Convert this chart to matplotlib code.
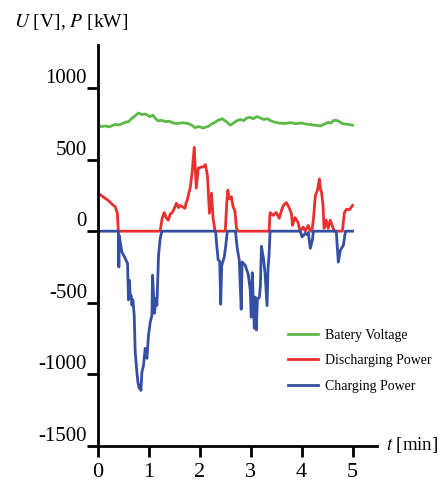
import matplotlib
matplotlib.use("Agg")
import matplotlib.pyplot as plt

plt.rcParams['font.family'] = ['Liberation Serif', 'DejaVu Serif']
plt.rcParams['mathtext.fontset'] = 'stix'

# ---- data ----
t_volt = [0.00, 0.07, 0.14, 0.22, 0.33, 0.42, 0.53, 0.60, 0.67, 0.73, 0.79, 0.86, 0.93,
          1.02, 1.08, 1.12, 1.18, 1.25, 1.32, 1.40, 1.48, 1.57, 1.66, 1.77, 1.84, 1.91,
          1.96, 2.01, 2.06, 2.11, 2.18, 2.24, 2.30, 2.36, 2.44, 2.52, 2.60, 2.66, 2.72,
          2.80, 2.86, 2.92, 2.99, 3.05, 3.12, 3.19, 3.26, 3.33, 3.40, 3.48, 3.56, 3.68,
          3.78, 3.88, 3.98, 4.08, 4.17, 4.26, 4.37, 4.45, 4.52, 4.57, 4.64, 4.72, 4.79,
          4.86, 4.93, 5.00]
voltage = [740, 730, 735, 728, 745, 742, 760, 765, 790, 805, 825, 815, 818,
           800, 810, 790, 770, 775, 765, 768, 755, 752, 757, 752, 740, 722,
           730, 728, 720, 725, 735, 750, 760, 775, 785, 765, 740, 755, 770,
           780, 772, 790, 795, 785, 800, 790, 780, 785, 770, 760, 755, 752,
           758, 750, 756, 748, 745, 740, 735, 748, 760, 755, 775, 770, 752,
           748, 745, 740]

t_dis = [0.00, 0.10, 0.20, 0.30, 0.34, 0.38, 0.40, 1.22, 1.26, 1.30, 1.34, 1.38, 1.42,
         1.46, 1.50, 1.54, 1.58, 1.61, 1.66, 1.71, 1.73, 1.75, 1.78, 1.81, 1.85, 1.89,
         1.93, 1.97, 2.01, 2.07, 2.11, 2.15, 2.19, 2.23, 2.26, 2.30, 2.50, 2.53, 2.55,
         2.58, 2.62, 2.65, 2.69, 2.72, 2.75, 3.36, 3.38, 3.44, 3.48, 3.50, 3.56, 3.60,
         3.64, 3.70, 3.76, 3.80, 3.82, 3.87, 3.93, 3.97, 4.03, 4.07, 4.13, 4.17, 4.20,
         4.23, 4.27, 4.31, 4.35, 4.37, 4.39, 4.42, 4.44, 4.48, 4.52, 4.56, 4.60, 4.64,
         4.80, 4.84, 4.88, 4.94, 5.00]
discharging = [265, 240, 215, 181, 170, 125, 0, 0, 90, 130, 95, 77, 120,
               130, 160, 195, 165, 180, 170, 160, 200, 210, 260, 300, 412, 586,
               300, 440, 445, 450, 465, 385, 125, 265, 90, 0, 0, 200, 286,
               225, 240, 175, 140, 20, 0, 0, 130, 110, 125, 130, 90, 140,
               180, 200, 160, 120, 40, 95, 60, 0, 28, 0, 40, 0, 0,
               77, 250, 286, 365, 290, 275, 180, 20, 77, 20, 77, 40, 0,
               0, 130, 153, 150, 180]

t_ch = [0.00, 0.40, 0.41, 0.415, 0.436, 0.470, 0.534, 0.580, 0.599, 0.619, 0.633, 0.652,
        0.666, 0.686, 0.711, 0.731, 0.764, 0.784, 0.809, 0.829, 0.843, 0.862, 0.894, 0.927,
        0.961, 0.992, 1.026, 1.059, 1.071, 1.110, 1.138, 1.157, 1.189, 1.222, 1.255,
        2.31, 2.33, 2.36, 2.39, 2.41, 2.43, 2.48, 2.51, 2.54,
        2.70, 2.735, 2.774, 2.813, 2.83, 2.89, 2.95, 2.99, 3.01, 3.03, 3.05, 3.07, 3.09,
        3.11, 3.13, 3.17, 3.19, 3.21, 3.25, 3.28, 3.32, 3.34, 3.36, 3.38,
        3.97, 4.01, 4.07, 4.11, 4.13, 4.17, 4.21, 4.23,
        4.68, 4.72, 4.76, 4.82, 4.86, 5.00]
charging = [0, 0, -250, -30, -75, -145, -190, -225, -480, -343, -460, -450,
            -517, -480, -587, -845, -985, -1055, -1097, -1080, -1112, -985, -937, -818,
            -888, -727, -636, -587, -307, -573, -468, -517, -168, -49, 0,
            0, -90, -200, -210, -510, -240, -180, -100, 0,
            0, -120, -200, -545, -215, -237, -300, -410, -600, -290, -480, -677, -460,
            -690, -480, -460, -377, -105, -190, -290, -520, -260, -167, 0,
            0, -40, -15, -25, -10, -120, -63, 0,
            0, -216, -133, -98, 0, 0]

labels = ['Batery Voltage', 'Discharging Power', 'Charging Power']
colors = ['#5cb947', '#e8302e', '#3350a5']

x_ticks = [0, 1, 2, 3, 4, 5]
x_ticklabels = ['0', '1', '2', '3', '4', '5']
y_ticks = [1000, 500, 0, -500, -1000, -1500]
y_ticklabels = ['1000', '500', '0', '-500', '-1000', '-1500']

# ---- figure ----
W, H = 443, 486
fig = plt.figure(figsize=(W / 100, H / 100), dpi=100)
ax = fig.add_axes([98 / W, 40 / H, (377 - 98) / W, (446 - 45) / H])

lw = 2.0
ax.plot(t_volt, voltage, color=colors[0], lw=lw, label=labels[0], solid_joinstyle='round')
ax.plot(t_dis, discharging, color=colors[1], lw=lw, label=labels[1], solid_joinstyle='round')
ax.plot(t_ch, charging, color=colors[2], lw=lw, label=labels[2], solid_joinstyle='round')

ax.set_xlim(0, 5.48)
ax.set_ylim(-1500, 1300)

for s in ['top', 'right']:
    ax.spines[s].set_visible(False)
for s in ['left', 'bottom']:
    ax.spines[s].set_linewidth(2.0)
    ax.spines[s].set_color('black')

ax.set_xticks(x_ticks)
ax.set_xticklabels(x_ticklabels, fontsize=16)
ax.set_yticks(y_ticks)
ax.set_yticklabels(y_ticklabels, fontsize=15)
ax.tick_params(axis='both', direction='out', length=8, width=2.0, color='black')
ax.tick_params(axis='y', pad=0)
ax.tick_params(axis='x', pad=4)
for lab in ax.get_yticklabels():
    lab.set_va('bottom')

fig.text(14 / W, 1 - 12 / H, r'$U$ [V], $P$ [kW]', fontsize=14, ha='left', va='top')
fig.text(386 / W, 1 - 445 / H, r'$t$ [min]', fontsize=13.5, ha='left', va='center')

leg = ax.legend(loc='upper left', bbox_to_anchor=(285 / W, 1 - 326 / H),
                bbox_transform=fig.transFigure, frameon=False, fontsize=10,
                handlelength=2.2, handletextpad=0.45, labelspacing=0.9,
                borderpad=0.2, borderaxespad=0)

fig.savefig('out.png', dpi=100)
